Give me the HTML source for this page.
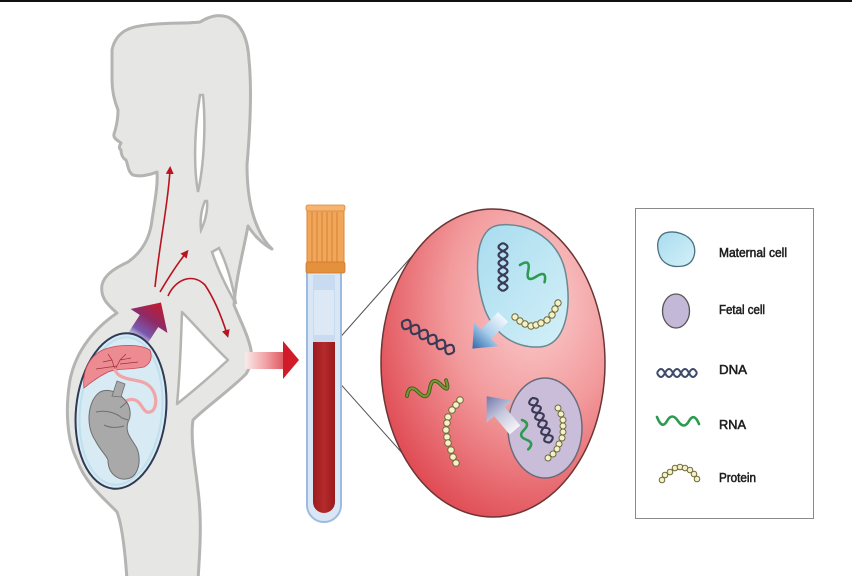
<!DOCTYPE html>
<html><head><meta charset="utf-8"><style>
html,body{margin:0;padding:0;background:#fff;}
svg{display:block;}
text{font-family:"Liberation Sans",sans-serif;}
</style></head><body>
<svg width="852" height="576" viewBox="0 0 852 576" xmlns="http://www.w3.org/2000/svg">
<defs>
<radialGradient id="gCircle" cx="0.68" cy="0.3" r="0.85">
<stop offset="0" stop-color="#fbd0d0"/>
<stop offset="0.45" stop-color="#f29a9c"/>
<stop offset="1" stop-color="#dc3a44"/>
</radialGradient>
<linearGradient id="gHArrow" x1="245" y1="0" x2="299" y2="0" gradientUnits="userSpaceOnUse">
<stop offset="0" stop-color="#fbeaea"/>
<stop offset="0.35" stop-color="#f2a8ac"/>
<stop offset="1" stop-color="#d01c28"/>
</linearGradient>
<linearGradient id="gPArrow" x1="0" y1="-22" x2="0" y2="22" gradientUnits="userSpaceOnUse">
<stop offset="0" stop-color="#c41a2a"/>
<stop offset="0.45" stop-color="#8e2a66"/>
<stop offset="0.8" stop-color="#7a5ab0"/>
<stop offset="1" stop-color="#b8b0dc" stop-opacity="0.5"/>
</linearGradient>
<linearGradient id="gBlueArrow" x1="0" y1="0" x2="44" y2="0" gradientUnits="userSpaceOnUse">
<stop offset="0" stop-color="#f2f8fd"/>
<stop offset="0.5" stop-color="#a9cdea"/>
<stop offset="1" stop-color="#2c68aa"/>
</linearGradient>
<linearGradient id="gGreyArrow" x1="0" y1="0" x2="44" y2="0" gradientUnits="userSpaceOnUse">
<stop offset="0" stop-color="#f4f4f6"/>
<stop offset="0.5" stop-color="#c4c6dc"/>
<stop offset="1" stop-color="#7078aa"/>
</linearGradient>
<linearGradient id="gBlood" x1="0" y1="0" x2="1" y2="0">
<stop offset="0" stop-color="#9c1c1e"/>
<stop offset="0.5" stop-color="#b42a2c"/>
<stop offset="1" stop-color="#9a1a1c"/>
</linearGradient>
<linearGradient id="gMat" x1="0" y1="0" x2="1" y2="1">
<stop offset="0" stop-color="#a8dcef"/>
<stop offset="1" stop-color="#d4f0f8"/>
</linearGradient>
<marker id="ah" viewBox="0 0 10 10" refX="5" refY="5" markerWidth="5" markerHeight="5" orient="auto">
<path d="M0,0 L10,5 L0,10 Z" fill="#b8141f"/>
</marker>
</defs>

<rect x="0" y="0" width="852" height="576" fill="#fff"/>
<rect x="0" y="0" width="852" height="2" fill="#111"/>

<!-- silhouette -->
<path d="M112,50 C115,35 125,28 140,26 C160,22 185,24 200,22 C210,16 218,14 228,17 C242,24 248,40 249,60 C252,90 250,130 247,165 C247,195 252,215 258,228 C262,238 267,244 272,249 C262,244 253,234 248,226 C244,248 236,278 234,305 C240,320 248,335 251,350 C252,360 250,368 246,374 C230,390 205,408 193,420 C190,440 196,470 198,490 C202,520 200,550 198,580 L127,580 C125,550 122,525 117,512 C106,500 86,485 77,460 C67,440 65,410 70,380 C76,350 95,328 117,313 C108,305 100,298 102,285 C104,275 115,268 128,262 C142,252 150,238 152,220 C155,200 158,185 157,172 C150,175 140,177 133,175 C128,172 128,165 126,160 C122,158 121,153 121,150 C118,148 120,145 121,143 C117,140 113,138 114,134 C116,128 118,120 118,110 C114,100 112,90 112,80 Z" fill="#e6e6e4" stroke="#b4b4b2" stroke-width="3" stroke-linejoin="round"/>
<!-- white gaps -->
<path d="M200,95 C195,125 193,165 198,192 C204,165 206,125 203,95 Z" fill="#fff" stroke="#b4b4b2" stroke-width="2.5"/>
<path d="M205,201 C201,210 200,220 201,230 C205,222 208,210 207,201 Z" fill="#fff" stroke="#b4b4b2" stroke-width="2.5"/>
<path d="M212,252 L219,248 C226,262 232,282 236,304 C228,290 218,270 212,252 Z" fill="#fff" stroke="#b4b4b2" stroke-width="2.5"/>
<path d="M182,312 C195,325 212,345 228,360 C212,375 192,392 177,404 C180,375 181,340 182,312 Z" fill="#fff" stroke="#b4b4b2" stroke-width="2.5" stroke-linejoin="round"/>

<!-- red thin arrows -->
<path d="M155,287 C160,240 168,205 170,170" fill="none" stroke="#b8141f" stroke-width="1.6" marker-end="url(#ah)"/>
<path d="M160,292 C170,275 178,263 186,253" fill="none" stroke="#b8141f" stroke-width="1.6" marker-end="url(#ah)"/>
<path d="M168,296 C175,280 192,272 205,285 C215,300 222,318 227,334" fill="none" stroke="#b8141f" stroke-width="1.6" marker-end="url(#ah)"/>

<!-- purple/red block arrow -->
<g transform="translate(149,321) rotate(33)">
<polygon points="0,-22 22,0 11,0 11,22 -11,22 -11,0 -22,0" fill="url(#gPArrow)"/>
</g>

<!-- uterus -->
<g transform="rotate(6 121 411)">
<ellipse cx="121" cy="411" rx="45" ry="78" fill="#d8eaf3" stroke="#2f3a55" stroke-width="2"/>
<ellipse cx="121" cy="411" rx="41" ry="74" fill="none" stroke="#bfe0ee" stroke-width="2"/>
</g>
<!-- placenta -->
<path d="M84,388 C82,370 90,355 105,349 C120,344 140,344 150,350 C153,358 150,364 144,367 C130,370 118,368 108,372 C98,377 90,383 84,388 Z" fill="#ec8c92" stroke="#c44a55" stroke-width="0.8"/>
<path d="M115,370 L112,360 L108,354 M112,360 L103,362 M115,370 L120,360 L126,354 M120,360 L131,358 M117,366 L96,369 M120,364 L138,362" fill="none" stroke="#a0303a" stroke-width="0.7"/>
<!-- cord -->
<path d="M115,370 C120,382 140,378 148,385 C158,392 158,410 150,412 C143,414 142,402 135,400 C128,398 124,402 120,405" fill="none" stroke="#eea6a8" stroke-width="3.2" stroke-linecap="round"/>
<!-- fetus -->
<path d="M100,392 C88,400 85,425 95,440 C100,450 106,455 108,460 C108,475 120,482 130,478 C140,474 142,455 135,445 C130,437 125,432 128,422 C132,415 130,405 125,400 C118,392 108,388 100,392 Z" fill="#a9a9a9" stroke="#6f6f6f" stroke-width="1"/>
<path d="M112,396 L117,381 L125,384 L121,397 Z" fill="#a9a9a9" stroke="#6f6f6f" stroke-width="0.8"/>
<path d="M96,412 C105,410 115,412 122,418 L128,420 M104,425 C110,428 118,428 124,426 M120,408 L127,402" fill="none" stroke="#6f6f6f" stroke-width="1"/>

<!-- horizontal arrow -->
<rect x="245" y="352" width="39" height="17" fill="url(#gHArrow)"/>
<polygon points="283,341 299,360 283,379" fill="#d01c28"/>

<!-- connector lines -->
<line x1="329" y1="350" x2="413" y2="255" stroke="#555" stroke-width="1"/>
<line x1="328" y1="370" x2="403" y2="454" stroke="#555" stroke-width="1"/>

<!-- tube -->
<path d="M307,272 L341,272 L341,505 A17,17 0 0 1 307,505 Z" fill="#d8e6f6" stroke="#9dbbe0" stroke-width="2"/>
<rect x="313" y="275" width="22" height="67" fill="#c9dbf0"/>
<rect x="314" y="290" width="20" height="45" fill="#dde8f6"/>
<path d="M313,342 L335,342 L335,502 A11,11 0 0 1 313,502 Z" fill="url(#gBlood)"/>
<!-- cap -->
<rect x="307" y="206" width="37" height="58" rx="2" fill="#f2a658" stroke="#d8863a" stroke-width="1"/>
<g stroke="#d3823a" stroke-width="1">
<line x1="312" y1="212" x2="312" y2="262"/><line x1="317" y1="212" x2="317" y2="262"/>
<line x1="322" y1="212" x2="322" y2="262"/><line x1="327" y1="212" x2="327" y2="262"/>
<line x1="332" y1="212" x2="332" y2="262"/><line x1="337" y1="212" x2="337" y2="262"/>
</g>
<rect x="306" y="205" width="39" height="6" rx="2" fill="#f6b470" stroke="#d8863a" stroke-width="0.8"/>
<rect x="306" y="262" width="39" height="11" rx="2" fill="#e4913e" stroke="#c8782e" stroke-width="0.8"/>

<!-- big circle -->
<ellipse cx="493" cy="363" rx="112" ry="154" fill="url(#gCircle)" stroke="#6b3535" stroke-width="1.5"/>

<!-- maternal cell -->
<path d="M500,225 C530,222 560,240 566,275 C572,310 565,345 540,347 C515,348 495,335 485,310 C478,290 475,265 480,245 C484,232 490,226 500,225 Z" fill="url(#gMat)" stroke="#6a8890" stroke-width="1.5"/>
<!-- fetal cell -->
<ellipse cx="545" cy="428" rx="37" ry="50" fill="#c9bdd9" stroke="#6a6a7a" stroke-width="1.5"/>

<!-- DNA -->
<g fill="none" stroke="#3a3a55" stroke-width="2.2">
<g transform="translate(402,322) rotate(30)">
<path d="M0,0 Q5,-10 10,0 T20,0 T30,0 T40,0 T50,0 T60,0"/>
<path d="M0,0 Q5,10 10,0 T20,0 T30,0 T40,0 T50,0 T60,0"/>
</g>
<g transform="translate(503,243) rotate(90)">
<path d="M0,0 Q4,-9 8,0 T16,0 T24,0 T32,0 T40,0 T48,0"/>
<path d="M0,0 Q4,9 8,0 T16,0 T24,0 T32,0 T40,0 T48,0"/>
</g>
<g transform="translate(532,398) rotate(68)">
<path d="M0,0 Q4,-9 8,0 T16,0 T24,0 T32,0 T40,0 T48,0"/>
<path d="M0,0 Q4,9 8,0 T16,0 T24,0 T32,0 T40,0 T48,0"/>
</g>
</g>

<!-- RNA -->
<g fill="none" stroke-linecap="round">
<path transform="translate(520,265) rotate(35)" d="M0,0 Q5,-12 10,0 T20,0 T30,0" stroke="#2d9a50" stroke-width="2.6"/>
<path transform="translate(407,396) rotate(-18)" d="M0,0 Q6,-12 12,0 T24,0 T36,0 T42,-3" stroke="#3e5a1e" stroke-width="3.8"/>
<path transform="translate(407,396) rotate(-18)" d="M0,0 Q6,-12 12,0 T24,0 T36,0 T42,-3" stroke="#7a9a30" stroke-width="2"/>
<path transform="translate(522,420) rotate(78)" d="M0,0 Q5,-8 10,0 T20,0 T30,0" stroke="#2d9a50" stroke-width="2.6"/>
</g>

<!-- proteins -->
<g fill="#f4f0c8" stroke="#6e6a3a" stroke-width="1">
<circle cx="515" cy="317" r="3.2"/><circle cx="520" cy="321" r="3.2"/><circle cx="525" cy="324" r="3.2"/>
<circle cx="531" cy="326" r="3.2"/><circle cx="536" cy="325" r="3.2"/><circle cx="541" cy="323" r="3.2"/>
<circle cx="547" cy="320" r="3.2"/><circle cx="552" cy="315" r="3.2"/><circle cx="555" cy="309" r="3.2"/>
<circle cx="558" cy="303" r="3.2"/>
<circle cx="558" cy="408" r="3"/><circle cx="561" cy="414" r="3"/><circle cx="563" cy="420" r="3"/>
<circle cx="563" cy="426" r="3"/><circle cx="563" cy="432" r="3"/><circle cx="562" cy="438" r="3"/>
<circle cx="559" cy="444" r="3"/><circle cx="557" cy="449" r="3"/><circle cx="553" cy="454" r="3"/>
<circle cx="548" cy="458" r="3"/>
<circle cx="460" cy="400" r="3.3"/><circle cx="456" cy="405" r="3.3"/><circle cx="452" cy="410" r="3.3"/>
<circle cx="448" cy="417" r="3.3"/><circle cx="447" cy="423" r="3.3"/><circle cx="446" cy="430" r="3.3"/>
<circle cx="447" cy="437" r="3.3"/><circle cx="448" cy="443" r="3.3"/><circle cx="451" cy="450" r="3.3"/>
<circle cx="453" cy="457" r="3.3"/><circle cx="456" cy="463" r="3.3"/>
</g>

<!-- block arrows in circle -->
<g transform="translate(503,317) rotate(134)">
<polygon points="0,-7 24,-7 24,-17 44,0 24,17 24,7 0,7" fill="url(#gBlueArrow)"/>
</g>
<g transform="translate(515,430) rotate(-130)">
<polygon points="0,-7 24,-7 24,-17 44,0 24,17 24,7 0,7" fill="url(#gGreyArrow)"/>
</g>

<!-- legend -->
<rect x="635.5" y="208.5" width="178" height="310" fill="#fff" stroke="#8a8a8a" stroke-width="1"/>
<path d="M665,233 C675,230 688,234 693,243 C697,252 694,264 683,266 C672,268 662,264 659,254 C656,244 658,236 665,233 Z" fill="url(#gMat)" stroke="#4a7080" stroke-width="1.3"/>
<ellipse cx="676" cy="311" rx="13.5" ry="17" fill="#c4b8d8" stroke="#555" stroke-width="1.3"/>
<g fill="none" stroke="#3f4b6a" stroke-width="2">
<path d="M657,373 Q661,365 665,373 T673,373 T681,373 T689,373 T697,373"/>
<path d="M657,373 Q661,381 665,373 T673,373 T681,373 T689,373 T697,373"/>
</g>
<path d="M657,417 Q662,430 667,421 T678,421 T689,421 T699,424" fill="none" stroke="#2d9a50" stroke-width="2.6" stroke-linecap="round"/>
<g fill="#f4f0c8" stroke="#6e6a3a" stroke-width="1">
<circle cx="662" cy="480" r="2.8"/><circle cx="665" cy="475" r="2.8"/><circle cx="670" cy="472" r="2.8"/>
<circle cx="675" cy="468" r="2.8"/><circle cx="680" cy="467" r="2.8"/><circle cx="685" cy="468" r="2.8"/>
<circle cx="690" cy="470" r="2.8"/><circle cx="694" cy="474" r="2.8"/><circle cx="697" cy="479" r="2.8"/>
</g>
<g fill="#1e1e1e" stroke="#1e1e1e" stroke-width="0.55" font-size="12.5">
<text x="719" y="257" textLength="68" lengthAdjust="spacingAndGlyphs">Maternal cell</text>
<text x="719" y="314" textLength="46" lengthAdjust="spacingAndGlyphs">Fetal cell</text>
<text x="719" y="374" textLength="28" lengthAdjust="spacingAndGlyphs">DNA</text>
<text x="719" y="429" textLength="27" lengthAdjust="spacingAndGlyphs">RNA</text>
<text x="719" y="482" textLength="37" lengthAdjust="spacingAndGlyphs">Protein</text>
</g>
</svg>
</body></html>
